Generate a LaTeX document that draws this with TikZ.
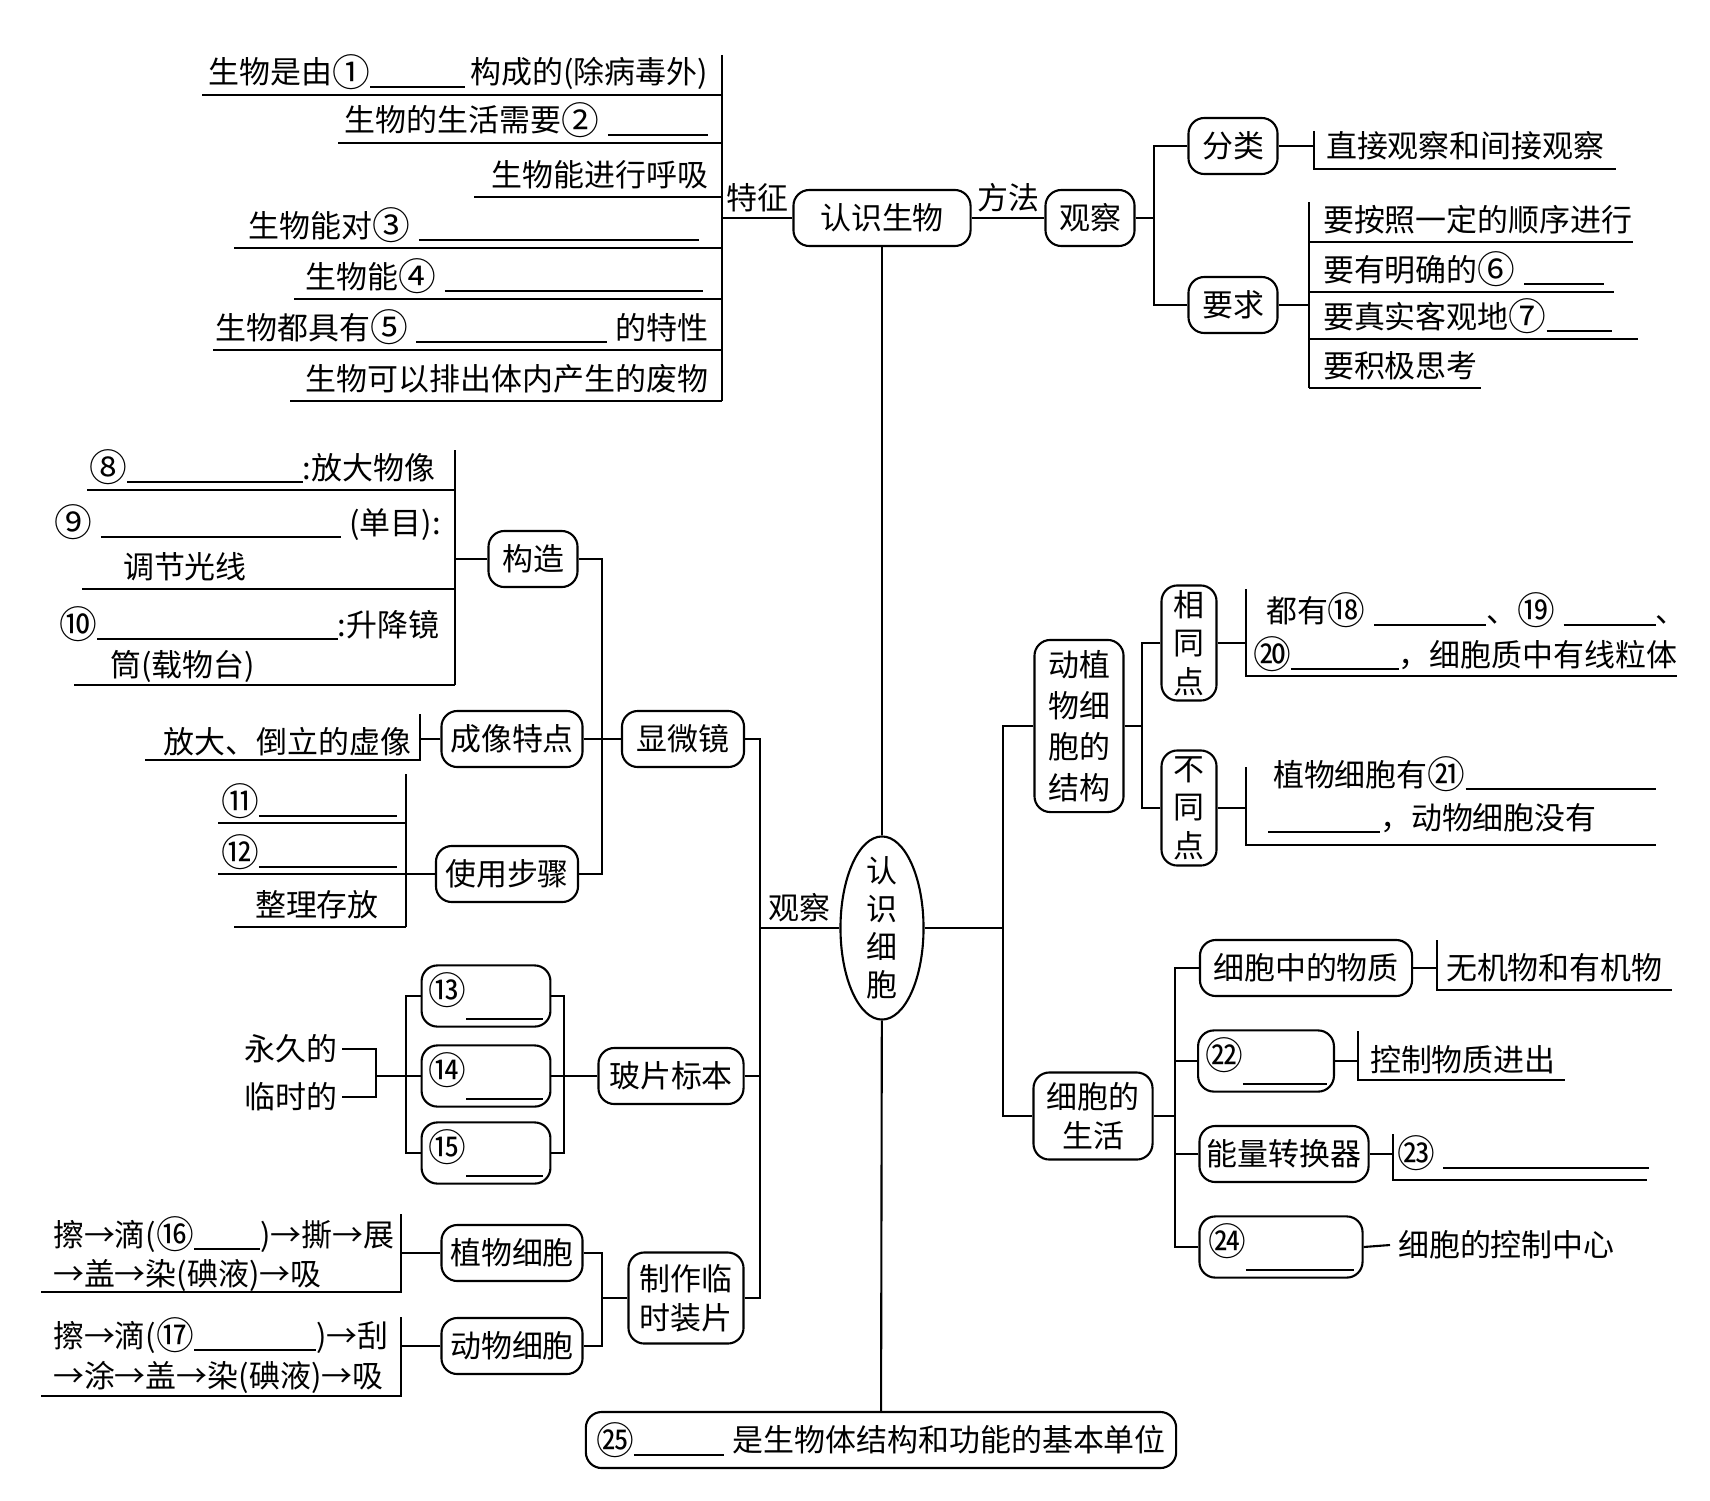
\documentclass[tikz,border=0pt]{standalone}
\usepackage{fontspec}
\usepackage{graphicx}
\setmainfont{Noto Sans CJK SC}
\usetikzlibrary{positioning,calc,shapes.geometric}
\newcommand{\fillin}[1]{\rule[-0.12em]{#1}{0.5pt}}
\newcommand{\cnum}[1]{\raisebox{-0.08em}{\scalebox{1.22}{#1}}}

\begin{document}
\begin{tikzpicture}[
  x=0.01cm, y=-0.01cm,
  line width=0.6pt,
  font=\fontsize{8.8pt}{11pt}\selectfont,
  boxnode/.style={draw, rounded corners=4.5pt, minimum height=0.56cm, inner sep=2pt, align=center},
  leafnode/.style={inner sep=0pt, anchor=base west},
  leafright/.style={inner sep=0pt, anchor=base east},
  tagnode/.style={above, inner sep=1.5pt}
]
\useasboundingbox (0,0) rectangle (1710,1500);

% 认识生物
\node[boxnode, minimum width=1.77cm] (rsw) at (882,218) {认识生物};
\node[boxnode, minimum width=0.89cm] (gc) at (1090,218) {观察};
\node[boxnode, minimum width=0.89cm] (fl) at (1233,146) {分类};
\node[boxnode, minimum width=0.89cm] (yq) at (1233,305) {要求};

% 特征
\coordinate (tzx) at (722,218);
\draw (rsw.west) -- node[tagnode] {特征} (tzx);
\draw (722,55) -- (722,401);
\node[leafright] (tz1) at (709,84) {生物是由\cnum{①}\fillin{0.95cm}\,构成的(除病毒外)};
\node[leafright] (tz2) at (709,132) {生物的生活需要\cnum{②}\;\fillin{1.0cm}};
\node[leafright] (tz3) at (709,186) {生物能进行呼吸};
\node[leafright] (tz4) at (700,237) {生物能对\cnum{③}\;\fillin{2.8cm}};
\node[leafright] (tz5) at (704,288) {生物能\cnum{④}\;\fillin{2.58cm}};
\node[leafright] (tz6) at (709,339) {生物都具有\cnum{⑤}\;\fillin{1.9cm}\;的特性};
\node[leafright] (tz7) at (709,390) {生物可以排出体内产生的废物};
\draw (202,95) -- (722,95);
\draw (338,143) -- (722,143);
\draw (474,197) -- (722,197);
\draw (234,248) -- (722,248);
\draw (294,299) -- (722,299);
\draw (213,350) -- (722,350);
\draw (290,401) -- (722,401);

% 方法
\coordinate (gcx) at (1154,218);
\draw (rsw) -- node[tagnode] {方法} (gc);
\draw (gc.east) -- (gcx);
\draw (fl.west) -| (gcx) |- (yq.west);

\coordinate (flx) at (1314,146);
\draw (fl.east) -- (flx);
\draw (1314,131) -- (1314,169) -- (1616,169);
\node[leafnode] (fl1) at (1325,158) {直接观察和间接观察};

\coordinate (yqx) at (1309,305);
\draw (yq.east) -- (yqx);
\draw (1309,202) -- (1309,388);
\node[leafnode] (yq1) at (1322,231) {要按照一定的顺序进行};
\node[leafnode] (yq2) at (1322,281) {要有明确的\cnum{⑥}\;\fillin{0.8cm}};
\node[leafnode] (yq3) at (1322,328) {要真实客观地\cnum{⑦}\fillin{0.65cm}};
\node[leafnode] (yq4) at (1322,377) {要积极思考};
\draw (1309,242) -- (1633,242);
\draw (1309,292) -- (1614,292);
\draw (1309,339) -- (1638,339);
\draw (1309,388) -- (1481,388);

% 认识细胞
\node[draw, ellipse, minimum width=0.83cm, minimum height=1.83cm, inner xsep=0pt, inner ysep=-4pt, align=center, font=\fontsize{8.8pt}{10.8pt}\selectfont] (rxb) at (882,928) {认\\识\\细\\胞};
\node[boxnode, minimum width=5.9cm] (dw) at (881,1440) {\cnum{㉕}\fillin{0.9cm}\;是生物体结构和功能的基本单位};
\draw (rsw) -- (rxb);
\draw (rxb) -- (dw);

% 观察
\coordinate (gcL) at (760,928);
\draw (rxb.west) -- node[tagnode] {观察} (gcL);
\node[boxnode, minimum width=1.22cm] (xwj) at (683,739) {显微镜};
\node[boxnode, minimum width=1.45cm] (bp) at (671,1076) {玻片标本};
\node[boxnode, minimum width=1.15cm, minimum height=0.91cm] (zz) at (686,1298) {制作临\\时装片};
\draw (xwj.east) -| (gcL);
\draw (zz.east) -| (gcL);
\draw (bp.east) -- (bp.east -| gcL);

% 显微镜
\node[boxnode, minimum width=0.89cm] (gz) at (533,559) {构造};
\node[boxnode, minimum width=1.41cm] (cx) at (512,739) {成像特点};
\node[boxnode, minimum width=1.42cm] (sy) at (507,874) {使用步骤};
\coordinate (xwjx) at (602,739);
\draw (xwj.west) -- (xwjx);
\draw (gz.east) -| (xwjx);
\draw (sy.east) -| (xwjx);
\draw (cx.east) -- (xwjx);

\coordinate (gzx) at (455,559);
\draw (gz.west) -- (gzx);
\draw (455,450) -- (455,685);
\node[leafright] (gz1) at (436,479) {\cnum{⑧}\fillin{1.75cm}:放大物像};
\node[leafright] (gz2) at (442,534) {\cnum{⑨}\;\fillin{2.4cm}\;(单目):};
\node[leafnode] (gz3) at (122,578) {调节光线};
\node[leafright] (gz4) at (440,636) {\cnum{⑩}\fillin{2.4cm}:升降镜};
\node[leafnode] (gz5) at (109,676) {筒(载物台)};
\draw (87,490) -- (455,490);
\draw (82,589) -- (455,589);
\draw (74,685) -- (455,685);

\coordinate (cxx) at (420,739);
\draw (cx.west) -- (cxx);
\draw (420,714) -- (420,760) -- (145,760);
\node[leafright] (cx1) at (412,753) {放大、倒立的虚像};

\coordinate (syx) at (406,874);
\draw (sy.west) -- (syx);
\draw (406,774) -- (406,927);
\node[leafnode] (sy1) at (220,813) {\cnum{⑪}\fillin{1.38cm}};
\node[leafnode] (sy2) at (220,864) {\cnum{⑫}\fillin{1.38cm}};
\node[leafnode] (sy3) at (254,916) {整理存放};
\draw (218,823) -- (406,823);
\draw (218,874) -- (406,874);
\draw (234,927) -- (406,927);

% 玻片标本
\node[boxnode, minimum width=1.23cm, minimum height=0.58cm] (b13) at (486,996) {\cnum{⑬}\raisebox{-0.45em}{\fillin{0.77cm}}};
\node[boxnode, minimum width=1.23cm, minimum height=0.58cm] (b14) at (486,1076) {\cnum{⑭}\raisebox{-0.45em}{\fillin{0.77cm}}};
\node[boxnode, minimum width=1.23cm, minimum height=0.58cm] (b15) at (486,1153) {\cnum{⑮}\raisebox{-0.45em}{\fillin{0.77cm}}};
\coordinate (bpx) at (564,1076);
\coordinate (bpl) at (406,1076);
\draw (bp.west) -- (bpx);
\draw (b13.east) -| (bpx);
\draw (b15.east) -| (bpx);
\draw (b14.east) -- (bpx);
\draw (b13.west) -| (bpl);
\draw (b15.west) -| (bpl);
\draw (b14.west) -- (bpl);
\node[anchor=east, inner sep=1pt] (yj) at (342,1049) {永久的};
\node[anchor=east, inner sep=1pt] (ls) at (342,1097) {临时的};
\coordinate (ysx) at (376,1076);
\draw (yj.east) -| (ysx);
\draw (ls.east) -| (ysx);
\draw (ysx) -- (bpl);

% 制作临时装片
\node[boxnode, minimum width=1.41cm] (zw) at (512,1253) {植物细胞};
\node[boxnode, minimum width=1.41cm] (dwb) at (512,1346) {动物细胞};
\coordinate (zzx) at (602,1298);
\draw (zz.west) -- (zzx);
\draw (zw.east) -| (zzx);
\draw (dwb.east) -| (zzx);

\coordinate (zwx) at (401,1253);
\draw (zw.west) -- (zwx);
\draw (401,1214) -- (401,1292) -- (41,1292);
\node[leafnode] (zw1) at (52,1246) {擦→滴(\cnum{⑯}\fillin{0.66cm})→撕→展};
\node[leafnode] (zw2) at (52,1285) {→盖→染(碘液)→吸};

\coordinate (dwx) at (401,1346);
\draw (dwb.west) -- (dwx);
\draw (401,1317) -- (401,1396) -- (41,1396);
\node[leafnode] (dw1) at (52,1347) {擦→滴(\cnum{⑰}\fillin{1.22cm})→刮};
\node[leafnode] (dw2) at (52,1387) {→涂→盖→染(碘液)→吸};

% 右侧
\coordinate (rxR) at (1003,928);
\draw (rxb.east) -- (rxR);
\node[boxnode, minimum width=0.89cm, minimum height=1.72cm, font=\fontsize{8.8pt}{11.7pt}\selectfont] (jg) at (1079,726) {动植\\物细\\胞的\\结构};
\node[boxnode, minimum width=1.19cm, minimum height=0.87cm] (sh) at (1093,1116) {细胞的\\生活};
\draw (jg.west) -| (rxR);
\draw (sh.west) -| (rxR);

% 动植物细胞的结构
\node[boxnode, minimum width=0.55cm, minimum height=1.15cm, inner sep=1pt] (xt) at (1189,643) {相\\同\\点};
\node[boxnode, minimum width=0.55cm, minimum height=1.15cm, inner sep=1pt] (bt) at (1189,808) {不\\同\\点};
\coordinate (jgx) at (1142,726);
\draw (jg.east) -- (jgx);
\draw (xt.west) -| (jgx);
\draw (bt.west) -| (jgx);

\coordinate (xtx) at (1246,643);
\draw (xt.east) -- (xtx);
\draw (1246,589) -- (1246,676) -- (1677,676);
\node[leafnode] (xt1) at (1265,622) {都有\cnum{⑱}\;\fillin{1.12cm}、\cnum{⑲}\;\fillin{0.92cm}、};
\node[leafnode] (xt2) at (1252,666) {\cnum{⑳}\fillin{1.08cm}，细胞质中有线粒体};

\coordinate (btx) at (1246,808);
\draw (bt.east) -- (btx);
\draw (1246,767) -- (1246,845) -- (1656,845);
\node[leafnode] (bt1) at (1272,786) {植物细胞有\cnum{㉑}\fillin{1.9cm}};
\node[leafnode] (bt2) at (1267,829) {\fillin{1.12cm}，动物细胞没有};

% 细胞的生活
\node[boxnode, minimum width=2.12cm] (wz) at (1306,968) {细胞中的物质};
\node[boxnode, minimum width=1.33cm, minimum height=0.6cm] (b22) at (1266,1061) {\cnum{㉒}\raisebox{-0.45em}{\fillin{0.84cm}}};
\node[boxnode, minimum width=1.69cm] (nl) at (1284,1154) {能量转换器};
\node[boxnode, minimum width=1.63cm, minimum height=0.58cm] (b24) at (1281,1247) {\cnum{㉔}\raisebox{-0.45em}{\fillin{1.08cm}}};
\coordinate (shx) at (1175,1116);
\draw (sh.east) -- (shx);
\draw (wz.west) -| (shx);
\draw (b24.west) -| (shx);
\draw (b22.west) -- (b22.west -| shx);
\draw (nl.west) -- (nl.west -| shx);

\coordinate (wzx) at (1437,968);
\draw (wz.east) -- (wzx);
\draw (1437,940) -- (1437,990) -- (1672,990);
\node[leafnode] (wz1) at (1445,979) {无机物和有机物};

\coordinate (b22x) at (1358,1061);
\draw (b22.east) -- (b22x);
\draw (1358,1031) -- (1358,1080) -- (1565,1080);
\node[leafnode] (b221) at (1369,1071) {控制物质进出};

\coordinate (nlx) at (1393,1154);
\draw (nl.east) -- (nlx);
\draw (1393,1134) -- (1393,1180) -- (1647,1180);
\node[leafnode] (nl1) at (1396,1165) {\cnum{㉓}\;\fillin{2.05cm}};

\node[anchor=west, inner sep=2pt] (kz) at (1390,1245) {细胞的控制中心};
\draw (b24.east) -- (kz.west);

\end{tikzpicture}
\end{document}
